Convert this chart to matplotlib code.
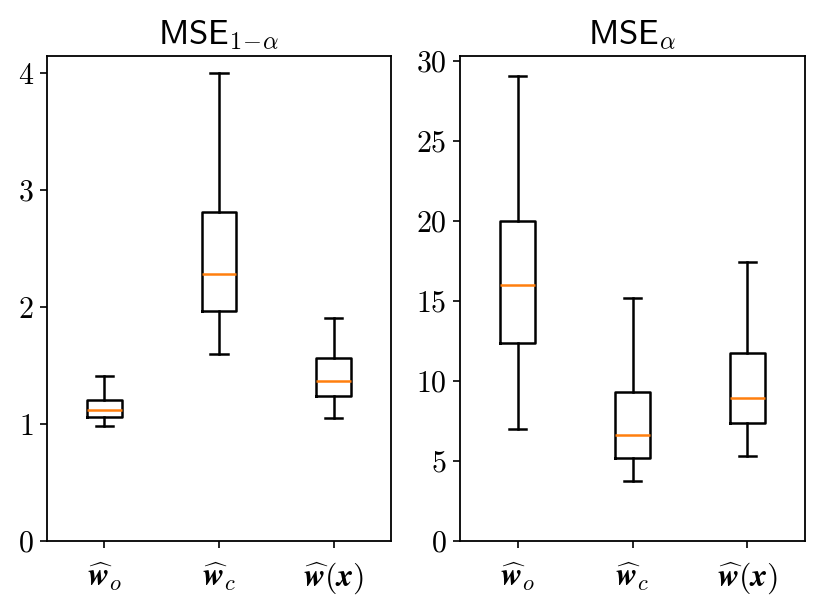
import matplotlib
matplotlib.use("Agg")
import matplotlib.pyplot as plt
from matplotlib.ticker import MultipleLocator

plt.rcParams['mathtext.fontset'] = 'cm'
plt.rcParams['font.family'] = 'serif'
plt.rcParams['font.serif'] = ['cmr10', 'DejaVu Serif']
plt.rcParams['axes.formatter.use_mathtext'] = True

labels = [r'$\widehat{\boldsymbol{w}}_o$', r'$\widehat{\boldsymbol{w}}_c$',
          r'$\widehat{\boldsymbol{w}}(\boldsymbol{x})$']

# Left panel: MSE_{1-alpha}
left_whislo = [0.98, 1.60, 1.054]
left_q1 = [1.062, 1.965, 1.239]
left_med = [1.12, 2.284, 1.37]
left_q3 = [1.205, 2.81, 1.562]
left_whishi = [1.41, 4.00, 1.91]

# Right panel: MSE_alpha
right_whislo = [7.01, 3.76, 5.28]
right_q1 = [12.39, 5.16, 7.35]
right_med = [16.02, 6.60, 8.91]
right_q3 = [20.0, 9.33, 11.77]
right_whishi = [29.08, 15.19, 17.44]

titles = [r'$\mathsf{MSE}_{1\!-\!\alpha}$', r'$\mathsf{MSE}_{\alpha}$']
ytick_steps = [1, 5]

fig = plt.figure(figsize=(8.29, 6.12), dpi=100)
ax1 = fig.add_axes([0.0567, 0.1165, 0.415, 0.7925])
ax2 = fig.add_axes([0.555, 0.1165, 0.416, 0.7925])

def make_stats(lo, q1, med, q3, hi):
    return [dict(whislo=a, q1=b, med=c, q3=d, whishi=e, fliers=[], label=l)
            for a, b, c, d, e, l in zip(lo, q1, med, q3, hi, labels)]

panels = [
    (ax1, make_stats(left_whislo, left_q1, left_med, left_q3, left_whishi)),
    (ax2, make_stats(right_whislo, right_q1, right_med, right_q3, right_whishi)),
]

lw = 1.8
for (ax, stats), title, step in zip(panels, titles, ytick_steps):
    ax.bxp(stats, positions=[1, 2, 3], widths=0.3, showfliers=False,
           boxprops=dict(color='black', linewidth=lw),
           whiskerprops=dict(color='black', linewidth=lw),
           capprops=dict(color='black', linewidth=lw),
           medianprops=dict(color='#ff7f0e', linewidth=lw))
    ax.set_ylim(bottom=0)
    ax.yaxis.set_major_locator(MultipleLocator(step))
    ax.set_title(title, fontsize=25, pad=8)
    ax.tick_params(axis='y', labelsize=21.5, length=5, width=1.2, pad=4.5)
    ax.tick_params(axis='x', labelsize=23, length=5, width=1.2, pad=9)
    for s in ax.spines.values():
        s.set_linewidth(1.3)

fig.savefig('out.png', dpi=100)
